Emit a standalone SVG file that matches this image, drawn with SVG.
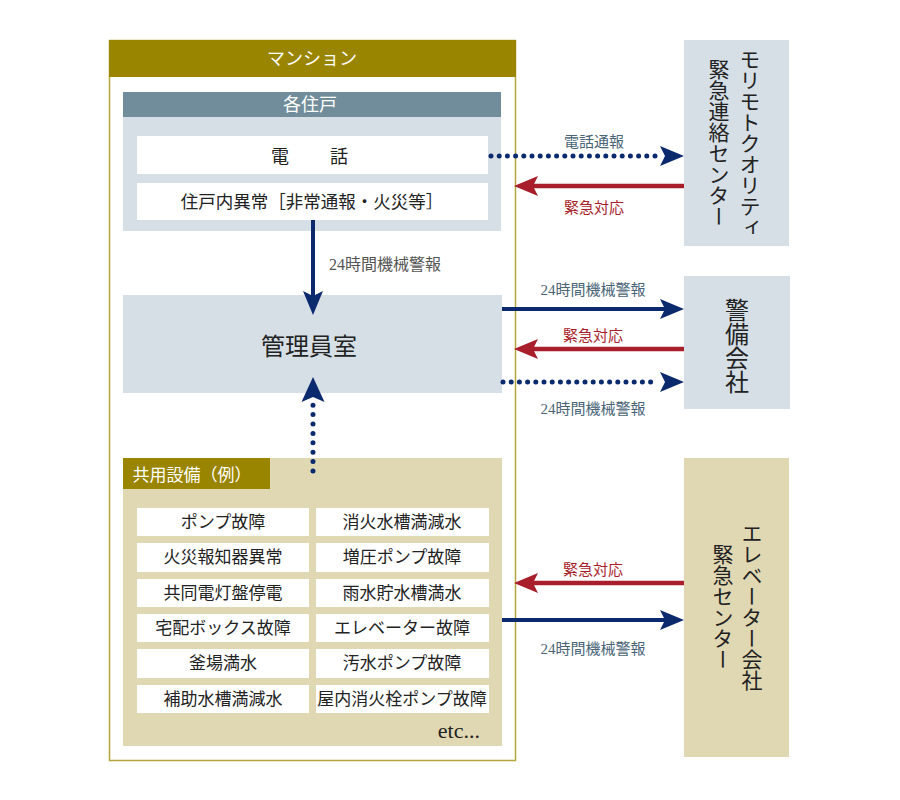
<svg xmlns="http://www.w3.org/2000/svg" width="900" height="800" viewBox="0 0 900 800">
<style>
text{font-family:"Liberation Serif","Noto Sans CJK JP",serif;}
.w{fill:#fff;}
.k{fill:#222;}
.item{fill:#fff;}
.it{font-size:17px;fill:#222;text-anchor:middle;}
.lb{font-size:15px;text-anchor:middle;}
.nv{fill:#4a6577;}
.rd{fill:#a81e2a;}
.vt{writing-mode:vertical-rl;text-anchor:middle;fill:#222;font-family:"Noto Sans CJK JP",sans-serif;}
.sol{fill:none;stroke:#0b2a6e;stroke-width:4;}
.dot{fill:none;stroke:#0b2a6e;stroke-width:5;stroke-linecap:round;stroke-dasharray:0 8.2;}
.dotv{fill:none;stroke:#0b2a6e;stroke-width:5;stroke-linecap:round;stroke-dasharray:0 9.4;}
.red{fill:none;stroke:#a81e2a;stroke-width:4.5;}
</style>
<defs>
<marker id="hn" viewBox="0 0 24 20" markerWidth="24" markerHeight="20" markerUnits="userSpaceOnUse" refX="12" refY="10" orient="auto">
<path d="M0,0 L24,10 L0,20 L5,10 Z" fill="#0b2a6e"/>
</marker>
<marker id="hr" viewBox="0 0 24 20" markerWidth="24" markerHeight="20" markerUnits="userSpaceOnUse" refX="12" refY="10" orient="auto">
<path d="M0,0 L24,10 L0,20 L5,10 Z" fill="#a81e2a"/>
</marker>
</defs>

<g id="mansion">
<rect x="109.5" y="40.5" width="406" height="720" fill="#fff" stroke="#b5a53a" stroke-width="1.5"/>
<rect x="109" y="40" width="407" height="37" fill="#998500"/>
<text x="312" y="65" class="w" font-size="18" text-anchor="middle">マンション</text>
</g>

<g id="jukou">
<rect x="123" y="92" width="378" height="139" fill="#d6dfe6"/>
<rect x="123" y="92" width="378" height="25" fill="#718d9b"/>
<text x="310" y="111" class="w" font-size="18" text-anchor="middle">各住戸</text>
<rect x="137" y="136" width="351" height="38" fill="#fff"/>
<text x="280" y="163" class="k" font-size="18" text-anchor="middle">電</text>
<text x="339" y="163" class="k" font-size="18" text-anchor="middle">話</text>
<rect x="137" y="183" width="351" height="37" fill="#fff"/>
<text x="312" y="208" class="k" font-size="17.5" text-anchor="middle">住戸内異常［非常通報・火災等］</text>
</g>

<g id="kanri">
<rect x="123" y="295" width="379" height="98" fill="#d6dfe6"/>
<text x="309" y="355" class="k" font-size="24" text-anchor="middle">管理員室</text>
</g>

<g id="kyoyo">
<rect x="123" y="458" width="379" height="288" fill="#e0d8b3"/>
<rect x="123" y="458" width="147" height="31" fill="#998500"/>
<text x="192" y="481" class="w" font-size="17" text-anchor="middle">共用設備（例）</text>
<rect class="item" x="137" y="508" width="172" height="28"/>
<rect class="item" x="316" y="508" width="173" height="28"/>
<rect class="item" x="137" y="543" width="172" height="29"/>
<rect class="item" x="316" y="543" width="173" height="29"/>
<rect class="item" x="137" y="579" width="172" height="28"/>
<rect class="item" x="316" y="579" width="173" height="28"/>
<rect class="item" x="137" y="614" width="172" height="28"/>
<rect class="item" x="316" y="614" width="173" height="28"/>
<rect class="item" x="137" y="649" width="172" height="29"/>
<rect class="item" x="316" y="649" width="173" height="29"/>
<rect class="item" x="137" y="685" width="172" height="28"/>
<rect class="item" x="316" y="685" width="173" height="28"/>
<text class="it" x="223" y="528">ポンプ故障</text>
<text class="it" x="402" y="528">消火水槽満減水</text>
<text class="it" x="223" y="563">火災報知器異常</text>
<text class="it" x="402" y="563">増圧ポンプ故障</text>
<text class="it" x="223" y="599">共同電灯盤停電</text>
<text class="it" x="402" y="599">雨水貯水槽満水</text>
<text class="it" x="223" y="634">宅配ボックス故障</text>
<text class="it" x="402" y="634">エレベーター故障</text>
<text class="it" x="223" y="669">釜場満水</text>
<text class="it" x="402" y="669">汚水ポンプ故障</text>
<text class="it" x="223" y="705">補助水槽満減水</text>
<text class="it" x="402" y="705">屋内消火栓ポンプ故障</text>
<text x="480" y="738" class="k" font-size="22" text-anchor="end">etc...</text>
</g>

<g id="morimoto">
<rect x="684" y="40" width="105" height="206" fill="#d6dfe6"/>
<text class="vt" x="750" y="143" font-size="21">モリモトクオリティ</text>
<text class="vt" x="719" y="143" font-size="21">緊急連絡センター</text>
</g>

<g id="keibi">
<rect x="684" y="276" width="106" height="133" fill="#d6dfe6"/>
<text class="vt" x="737" y="346" font-size="24">警備会社</text>
</g>

<g id="elevator">
<rect x="684" y="458" width="105" height="299" fill="#e0d8b3"/>
<text class="vt" x="752" y="607" font-size="21">エレベーター会社</text>
<text class="vt" x="723" y="607" font-size="21">緊急センター</text>
</g>

<g id="connectors">
<path class="sol" d="M313,220 V303" marker-end="url(#hn)"/>
<text x="385" y="270" class="lb" style="font-size:16px" fill="#555">24時間機械警報</text>
<path class="dotv" d="M313,471 V400"/>
<path d="M301.5,402 L313,377 L324.5,402 L313,397 Z" fill="#0b2a6e"/>

<path class="dot" d="M491,156 H656"/>
<path d="M660,146 L684,156 L660,166 L665,156 Z" fill="#0b2a6e"/>
<text x="594" y="147" class="lb nv">電話通報</text>
<path class="red" d="M684,186 H526" marker-end="url(#hr)"/>
<text x="594" y="213" class="lb rd">緊急対応</text>

<path class="sol" d="M502,309 H672" marker-end="url(#hn)"/>
<text x="593" y="295" class="lb nv">24時間機械警報</text>
<path class="red" d="M684,349 H526" marker-end="url(#hr)"/>
<text x="593" y="341" class="lb rd">緊急対応</text>
<path class="dot" d="M503,382 H656"/>
<path d="M660,372 L684,382 L660,392 L665,382 Z" fill="#0b2a6e"/>
<text x="593" y="414" class="lb nv">24時間機械警報</text>

<path class="red" d="M684,583 H526" marker-end="url(#hr)"/>
<text x="593" y="575" class="lb rd">緊急対応</text>
<path class="sol" d="M502,620 H672" marker-end="url(#hn)"/>
<text x="593" y="654" class="lb nv">24時間機械警報</text>
</g>
</svg>
